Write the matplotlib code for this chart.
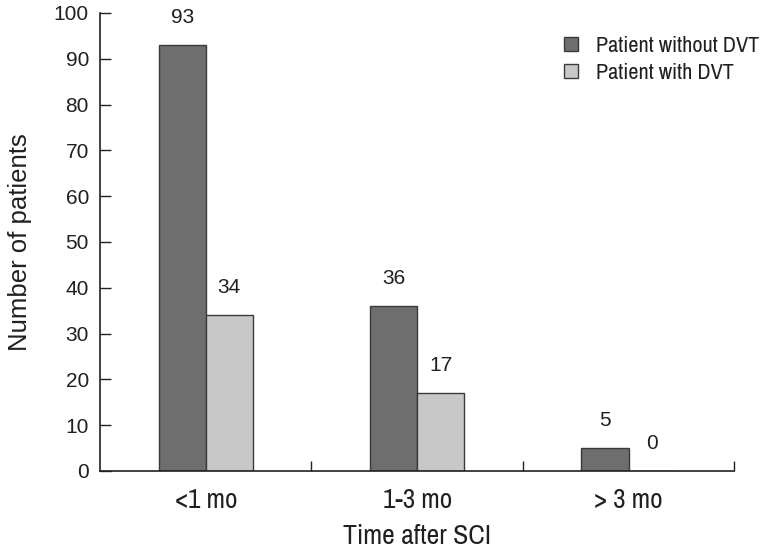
import numpy as np
import matplotlib
matplotlib.use('Agg')
from matplotlib import pyplot as plt
from matplotlib import font_manager

categories = ['<1 mo', '1-3 mo', '> 3 mo']
without_dvt = [93, 36, 5]
with_dvt = [34, 17, 0]
series_names = ['Patient without DVT', 'Patient with DVT']

# pick a condensed face if one is installed
names = sorted({f.name for f in font_manager.fontManager.ttflist})
narrow = [n for n in names if 'Narrow' in n or 'Condensed' in n]
cond = narrow[0] if narrow else 'Liberation Sans'
plain = 'Liberation Sans'
plt.rcParams['font.family'] = [cond, 'DejaVu Sans']
ink = '#231f20'

fig = plt.figure(figsize=(7.67, 5.53), dpi=100)
ax = fig.add_axes([0.1304, 0.1483, 0.827, 0.8282])

x = np.arange(len(categories))
w = 0.223
dark = '#6e6e6e'
light = '#c8c8c8'
b1 = ax.bar(x - w / 2, without_dvt, w, color=dark, edgecolor='#3a3a3a', linewidth=1, label=series_names[0])
b2 = ax.bar(x + w / 2, with_dvt, w, color=light, edgecolor='#3a3a3a', linewidth=1, label=series_names[1])

for bars, vals in [(b1, without_dvt), (b2, with_dvt)]:
    for b, v in zip(bars, vals):
        ax.annotate(str(v), (b.get_x() + b.get_width() / 2, v), xytext=(0, 13),
                    textcoords='offset points', ha='center', va='bottom',
                    fontsize=15, family=plain, color=ink)

ax.set_xlim(-0.5, 2.5)
ax.set_ylim(0, 100)
ax.set_yticks(range(0, 101, 10))
ax.set_yticklabels([str(t) for t in range(0, 101, 10)], family=plain, fontsize=15, color=ink)
ax.set_xticks([0, 1, 2])
ax.set_xticklabels(categories, fontsize=19.5, color=ink)
ax.set_xticks([0.5, 1.5, 2.5], minor=True)
ax.tick_params(axis='x', which='major', length=0, pad=12)
ax.tick_params(axis='x', which='minor', direction='in', length=7, width=1, color=ink)
ax.tick_params(axis='y', direction='in', length=8, width=1, color=ink, pad=8)

for s in ['top', 'right']:
    ax.spines[s].set_visible(False)
for s in ['left', 'bottom']:
    ax.spines[s].set_color(ink)
    ax.spines[s].set_linewidth(1.2)

ax.set_ylabel('Number of patients', fontsize=18.5, family=plain, color=ink, labelpad=16)
ax.set_xlabel('Time after SCI', fontsize=20, color=ink, labelpad=8)

ax.legend(loc='upper left', bbox_to_anchor=(0.70, 0.994), frameon=False, fontsize=16,
          handlelength=0.65, handleheight=0.65, handletextpad=0.8, labelspacing=0.32,
          labelcolor=ink)

plt.savefig('out.png', dpi=100)
